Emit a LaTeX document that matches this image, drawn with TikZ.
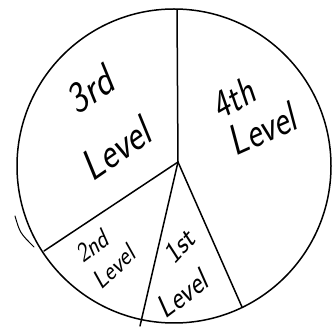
\documentclass[tikz,border=0pt]{standalone}
\usepackage{tikz}
\tikzset{
  stroke/.style={draw=black, line width=1.5pt, line cap=round, line join=round},
  slicelabel/.style={font=\sffamily, inner sep=0pt, yscale=1.3}
}

\begin{document}
\begin{tikzpicture}[x=1pt, y=-1pt]
  \useasboundingbox (0,0) rectangle (332,328);

  % pie outline
  \coordinate (centre) at (174,166);
  \draw[stroke] (centre) circle (157);
  \draw[stroke, line width=1pt] (15,216) .. controls (20,233) .. (34,247);

  % slice borders
  \coordinate (hub) at (178,162);
  \coordinate (rimtop) at (177,10);
  \coordinate (rimleft) at (44,251);
  \coordinate (rimbottom) at (140,326);
  \coordinate (rimright) at (242,307);
  \draw[stroke] (hub) -- (rimtop);
  \draw[stroke] (hub) -- (rimleft);
  \draw[stroke] (hub) -- (rimbottom);
  \draw[stroke] (hub) -- (rimright);

  % labels
  \node[slicelabel, rotate=28, font=\sffamily\fontsize{35}{35}\selectfont] (thirdA) at (92,88) {3rd};
  \node[slicelabel, rotate=28, font=\sffamily\fontsize{35}{35}\selectfont] (thirdB) at (118,147) {Level};
  \node[slicelabel, rotate=24, font=\sffamily\fontsize{32}{32}\selectfont] (fourthA) at (235,97) {4th};
  \node[slicelabel, rotate=19, font=\sffamily\fontsize{34}{34}\selectfont] (fourthB) at (264,128) {Level};
  \node[slicelabel, rotate=30, font=\sffamily\fontsize{22}{22}\selectfont] (secondA) at (93,245) {2nd};
  \node[slicelabel, rotate=36, font=\sffamily\fontsize{22}{22}\selectfont] (secondB) at (115,266) {Level};
  \node[slicelabel, rotate=40, font=\sffamily\fontsize{25}{25}\selectfont] (firstA) at (180,245) {1st};
  \node[slicelabel, rotate=30, font=\sffamily\fontsize{26}{26}\selectfont] (firstB) at (184,293) {Level};
\end{tikzpicture}
\end{document}
